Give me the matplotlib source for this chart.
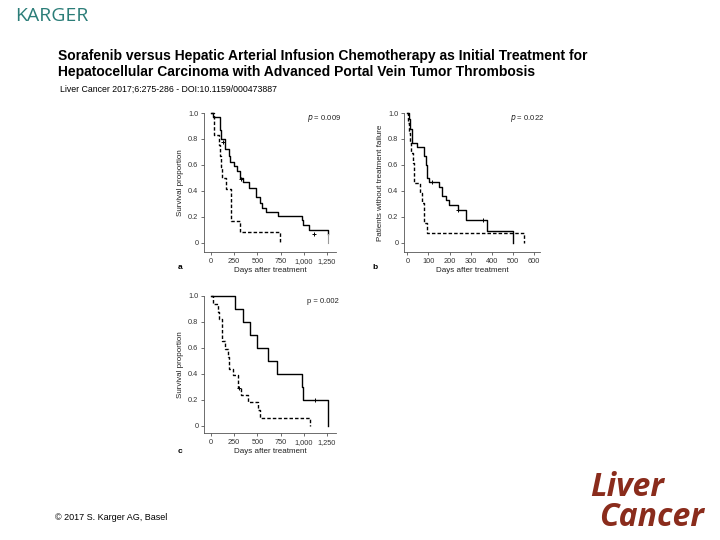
#!/usr/bin/env python3
# Kaplan-Meier panels (a, b, c) on a publisher slide
import matplotlib
matplotlib.use('Agg')
import matplotlib.pyplot as plt

# panel a: survival, HAIC (solid) vs sorafenib (dashed)
a_solid_t = [0, 25, 97, 105, 150, 190, 204, 247, 276, 311, 340, 412, 490, 526, 555, 598, 723, 985, 995, 1056, 1260]
a_solid_s = [1.0, 0.97, 0.87, 0.80, 0.72, 0.67, 0.62, 0.59, 0.55, 0.50, 0.47, 0.42, 0.35, 0.31, 0.27, 0.24, 0.21, 0.18, 0.14, 0.10, 0.07]
a_solid_end = [1260, 0.0]
a_solid_cens_t = [125, 319, 1110]
a_solid_cens_s = [0.78, 0.49, 0.07]
a_dash_t = [0, 36, 82, 95, 104, 122, 161, 215, 311, 741]
a_dash_s = [1.0, 0.833, 0.75, 0.667, 0.583, 0.50, 0.417, 0.167, 0.083, 0.0]

# panel b: patients without treatment failure
b_solid_t = [0, 6, 14, 22, 46, 77, 87, 93, 101, 148, 164, 184, 198, 238, 279, 376, 502]
b_solid_s = [1.0, 0.95, 0.88, 0.77, 0.74, 0.67, 0.60, 0.50, 0.47, 0.43, 0.36, 0.33, 0.29, 0.25, 0.18, 0.09, 0.0]
b_solid_cens_t = [117, 238, 357]
b_solid_cens_s = [0.47, 0.25, 0.18]
b_dash_t = [0, 3, 8, 11, 17, 25, 30, 61, 69, 77, 80, 93, 553]
b_dash_s = [1.0, 0.923, 0.846, 0.769, 0.692, 0.615, 0.462, 0.385, 0.308, 0.231, 0.154, 0.077, 0.0]

# panel c: survival, subgroup
c_solid_t = [0, 258, 340, 419, 498, 616, 712, 985, 992, 1260]
c_solid_s = [1.0, 0.9, 0.8, 0.7, 0.6, 0.5, 0.4, 0.3, 0.2, 0.0]
c_solid_cens_t = [1117]
c_solid_cens_s = [0.2]
c_dash_t = [0, 18, 80, 89, 115, 150, 180, 197, 240, 294, 319, 401, 508, 526, 1063]
c_dash_s = [1.0, 0.94, 0.88, 0.82, 0.65, 0.59, 0.53, 0.44, 0.39, 0.29, 0.24, 0.18, 0.12, 0.06, 0.0]
c_dash_cens_t = [300]
c_dash_cens_s = [0.29]

y_ticks = [0, 0.2, 0.4, 0.6, 0.8, 1.0]
y_labels = ['0', '0.2', '0.4', '0.6', '0.8', '1.0']
x_ticks_ac = [0, 250, 500, 750, 1000, 1250]
x_labels_ac = ['0', '250', '500', '750', '1,000', '1,250']
x_ticks_b = [0, 100, 200, 300, 400, 500, 600]

plt.rcParams['font.family'] = ['Liberation Sans', 'DejaVu Sans']

fig = plt.figure(figsize=(7.2, 5.4), dpi=100)

def px(l, t, r, b):
    # pixel box -> figure fraction
    return [l / 720, (540 - b) / 540, (r - l) / 720, (b - t) / 540]

def km_panel(ax, st, ss, dt, ds, xlim, ylim, xt, xl, ylabel, pval, letter, lx, ly):
    ax.step(st, ss, where='post', color='black', lw=1.0, clip_on=False)
    ax.step(dt, ds, where='post', color='black', lw=1.0, ls=(0, (2.5, 1.5)), clip_on=False)
    ax.set_xlim(*xlim)
    ax.set_ylim(*ylim)
    ax.set_xticks(xt)
    ax.set_xticklabels(xl)
    ax.set_yticks(y_ticks)
    ax.set_yticklabels(y_labels)
    for s in ['top', 'right']:
        ax.spines[s].set_visible(False)
    for s in ['left', 'bottom']:
        ax.spines[s].set_linewidth(0.6)
        ax.spines[s].set_color('#555555')
    ax.tick_params(labelsize=5.3, length=2, width=0.5, pad=2, colors='#333333')
    ax.set_xlabel('Days after treatment', fontsize=5.8, labelpad=2, color='#222222')
    ax.set_ylabel(ylabel, fontsize=5.8, labelpad=3, color='#222222')
    ax.text(0.78, 0.96, pval, transform=ax.transAxes, fontsize=5.5, color='#222222', va='center')
    ax.text(lx, ly, letter, transform=ax.transAxes, fontsize=6, fontweight='bold', va='center')

ax_a = fig.add_axes(px(204, 113, 336, 252))
km_panel(ax_a, a_solid_t, a_solid_s, a_dash_t, a_dash_s, (-75, 1347), (-0.07, 1.0),
         x_ticks_ac, x_labels_ac, 'Survival proportion', '$p$ = 0.009', 'a', -0.2, -0.115)
ax_a.plot([a_solid_end[0], a_solid_end[0]], [a_solid_s[-1], a_solid_end[1]], color='#999999', lw=0.8)
ax_a.plot(a_solid_cens_t, a_solid_cens_s, ls='none', marker='+', ms=3, mew=0.7, color='black')

ax_b = fig.add_axes(px(404, 113, 540, 252))
km_panel(ax_b, b_solid_t, b_solid_s, b_dash_t, b_dash_s, (-16, 628), (-0.07, 1.0),
         x_ticks_b, [str(v) for v in x_ticks_b], 'Patients without treatment failure', '$p$ = 0.022', 'b',
         -0.23, -0.115)
ax_b.plot(b_solid_cens_t, b_solid_cens_s, ls='none', marker='+', ms=3, mew=0.7, color='black')

ax_c = fig.add_axes(px(204, 296, 336, 433))
km_panel(ax_c, c_solid_t, c_solid_s, c_dash_t, c_dash_s, (-75, 1347), (-0.056, 1.0),
         x_ticks_ac, x_labels_ac, 'Survival proportion', 'p = 0.002', 'c', -0.2, -0.135)
ax_c.plot(c_solid_cens_t, c_solid_cens_s, ls='none', marker='+', ms=3, mew=0.7, color='black')
ax_c.plot(c_dash_cens_t, c_dash_cens_s, ls='none', marker='+', ms=3, mew=0.7, color='black')

# slide decorations
fig.text(15 / 720, 1 - 16 / 540, 'KARGER', fontsize=14, color='#2b7d78', family='Open Sans', va='center')
fig.text(58 / 720, 1 - 56 / 540, 'Sorafenib versus Hepatic Arterial Infusion Chemotherapy as Initial Treatment for',
         fontsize=10, fontweight='bold', va='center')
fig.text(58 / 720, 1 - 72 / 540, 'Hepatocellular Carcinoma with Advanced Portal Vein Tumor Thrombosis',
         fontsize=10, fontweight='bold', va='center')
fig.text(60 / 720, 1 - 89 / 540, 'Liver Cancer 2017;6:275-286 - DOI:10.1159/000473887', fontsize=6.3, va='center')
fig.text(55 / 720, 1 - 517 / 540, '© 2017 S. Karger AG, Basel', fontsize=6.5, va='center')
fig.text(590 / 720, 1 - 487 / 540, 'Liver', fontsize=23, color='#8a2c1c', family='Open Sans',
         fontweight='bold', style='italic', va='center')
fig.text(599 / 720, 1 - 517 / 540, 'Cancer', fontsize=23, color='#8a2c1c', family='Open Sans',
         fontweight='bold', style='italic', va='center')

fig.savefig('out.png', dpi=100)
